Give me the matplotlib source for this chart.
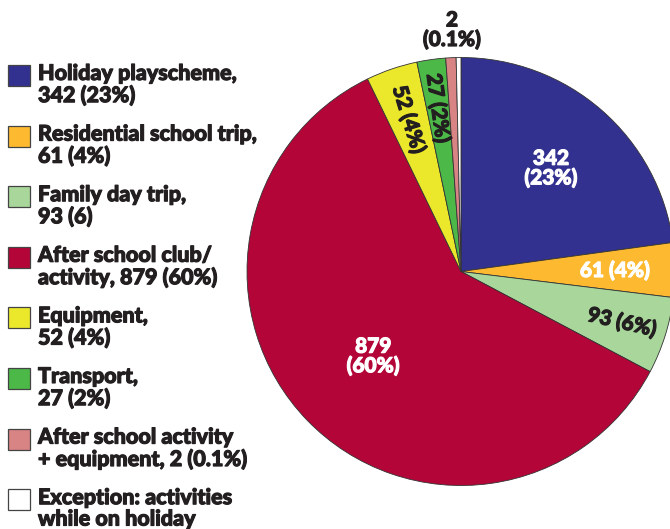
import numpy as np
import matplotlib
matplotlib.use("Agg")
import matplotlib.pyplot as plt
from matplotlib.patches import Rectangle
from matplotlib import font_manager as fm
import matplotlib.patheffects as pe

# ---- data ----
categories = ["Holiday playscheme", "Residential school trip", "Family day trip",
              "After school club/activity", "Equipment", "Transport",
              "After school activity + equipment", "Exception: activities while on holiday"]
counts = [342, 61, 93, 879, 52, 27, 2, None]
# drawn share of the circle (degrees)
drawn_share = [82.2, 14.8, 20.9, 216.2, 14.0, 7.8, 2.8, 1.3]
legend_labels = ["Holiday playscheme,\n342 (23%)",
                 "Residential school trip,\n61 (4%)",
                 "Family day trip,\n93 (6)",
                 "After school club/\nactivity, 879 (60%)",
                 "Equipment,\n52 (4%)",
                 "Transport,\n27 (2%)",
                 "After school activity\n+ equipment, 2 (0.1%)",
                 "Exception: activities\nwhile on holiday"]
slice_labels = ["342\n(23%)", "61 (4%)", "93 (6%)", "879\n(60%)", "52 (4%)", "27 (2%)", "2\n(0.1%)", ""]
colors = ["#33318F", "#FDB92F", "#A8D69B", "#B30537", "#EBE72B", "#4CB848", "#D88484", "#FFFFFF"]

def pick_bold_family():
    fams = {}
    for f in fm.fontManager.ttflist:
        w = f.weight if isinstance(f.weight, int) else 400
        fams.setdefault(f.name, set()).add(w)
    for cand in ["Lato", "Open Sans", "Noto Sans", "Roboto", "Liberation Sans", "DejaVu Sans"]:
        if cand in fams and any(w >= 700 for w in fams[cand]):
            return cand, max(fams[cand])
    return "DejaVu Sans", 700

FONT, MAXW = pick_bold_family()
WEIGHT = min(MAXW, 900)
DARK = "#231F20"

def thick(col):
    return [pe.withStroke(linewidth=0.8, foreground=col)]

W, H = 670, 529
fig = plt.figure(figsize=(W / 100, H / 100), dpi=100)
ax = fig.add_axes([0, 0, 1, 1])

cx, cy, R = 461, H - 271.5, 214
wedges, _ = ax.pie(drawn_share, colors=colors, startangle=90, counterclock=False,
                   center=(cx, cy), radius=R, frame=True,
                   wedgeprops=dict(edgecolor="#333333", linewidth=0.6))
ax.set_xlim(0, W)
ax.set_ylim(0, H)
ax.set_aspect("equal")
ax.axis("off")

# slice labels: (radius fraction, rotation, color)
lab_style = [(0.64, 0, "white"), (0.72, 0, "white"), (0.79, -13, DARK),
             (0.57, 0, "white"), (0.75, -73, DARK), (0.77, -82, DARK),
             (1.13, 0, DARK), None]
for w, txt, st in zip(wedges, slice_labels, lab_style):
    if st is None or not txt:
        continue
    frac, rot, col = st
    mid = np.deg2rad((w.theta1 + w.theta2) / 2)
    x = cx + frac * R * np.cos(mid)
    y = cy + frac * R * np.sin(mid)
    if txt.startswith("2\n"):
        x = cx - 9
    ax.text(x, y, txt, ha="center", va="center", rotation=rot, color=col,
            fontsize=15, fontweight=WEIGHT, family=FONT, linespacing=1.0,
            path_effects=thick(col))

# legend
y0, step = 65, 60.6
for i, (lab, col) in enumerate(zip(legend_labels, colors)):
    top = y0 + i * step
    ax.add_patch(Rectangle((8, H - top - 21), 22, 21, facecolor=col,
                           edgecolor="#444444", linewidth=0.9))
    ax.text(38, H - top + 2, lab, ha="left", va="top", color=DARK,
            fontsize=15.5, fontweight=WEIGHT, family=FONT, linespacing=1.02,
            path_effects=thick(DARK))

fig.savefig("out.png", dpi=100)
